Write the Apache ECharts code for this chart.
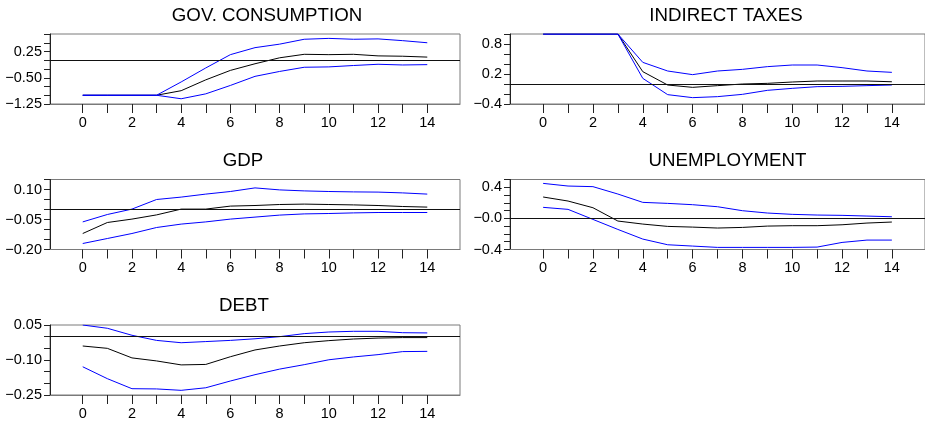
<!DOCTYPE html>
<html><head><meta charset="utf-8">
<script src="https://cdn.jsdelivr.net/npm/echarts@6/dist/echarts.min.js"></script>
<style>html,body{margin:0;padding:0;background:#fff}#c{width:925px;height:421px}</style>
</head><body><div id="c"></div>
<script>
// ---- data ----
const periods = [0,1,2,3,4,5,6,7,8,9,10,11,12,13,14];
const xLabelValues = [0,2,4,6,8,10,12,14];

const titles = ['GOV. CONSUMPTION','INDIRECT TAXES','GDP','UNEMPLOYMENT','DEBT'];

const govUpper = [-1.0,-1.0,-1.0,-1.0,-0.62,-0.22,0.16,0.36,0.46,0.60,0.625,0.60,0.61,0.56,0.50];
const govMid   = [-1.0,-1.0,-1.0,-1.0,-0.87,-0.56,-0.29,-0.10,0.07,0.17,0.16,0.17,0.125,0.115,0.09];
const govLower = [-1.0,-1.0,-1.0,-1.0,-1.10,-0.96,-0.72,-0.46,-0.32,-0.20,-0.19,-0.15,-0.115,-0.135,-0.125];

const taxUpper = [1.0,1.0,1.0,1.0,0.433,0.26,0.187,0.26,0.293,0.347,0.38,0.38,0.327,0.26,0.233];
const taxMid   = [1.0,1.0,1.0,1.0,0.247,-0.02,-0.067,-0.033,0.0,0.013,0.04,0.06,0.06,0.06,0.045];
const taxLower = [1.0,1.0,1.0,1.0,0.113,-0.213,-0.273,-0.253,-0.207,-0.127,-0.087,-0.053,-0.047,-0.033,-0.02];

const gdpUpper = [-0.062,-0.025,0.002,0.05,0.062,0.077,0.09,0.108,0.098,0.093,0.09,0.088,0.087,0.083,0.077];
const gdpMid   = [-0.12,-0.065,-0.048,-0.027,0.002,0.002,0.017,0.02,0.025,0.027,0.025,0.023,0.02,0.015,0.012];
const gdpLower = [-0.17,-0.145,-0.12,-0.09,-0.073,-0.062,-0.048,-0.038,-0.028,-0.022,-0.02,-0.017,-0.015,-0.015,-0.015];

const unUpper = [0.45,0.416,0.408,0.313,0.206,0.193,0.176,0.15,0.099,0.069,0.052,0.043,0.039,0.03,0.021];
const unMid   = [0.275,0.223,0.137,-0.034,-0.073,-0.103,-0.112,-0.124,-0.116,-0.099,-0.094,-0.094,-0.082,-0.06,-0.047];
const unLower = [0.142,0.116,-0.013,-0.142,-0.266,-0.339,-0.356,-0.373,-0.373,-0.373,-0.373,-0.369,-0.309,-0.279,-0.279];

const debtUpper = [0.05,0.036,0.006,-0.016,-0.026,-0.021,-0.016,-0.009,0.0,0.013,0.02,0.023,0.023,0.017,0.016];
const debtMid   = [-0.04,-0.05,-0.091,-0.104,-0.121,-0.119,-0.086,-0.057,-0.04,-0.026,-0.017,-0.01,-0.006,-0.004,-0.004];
const debtLower = [-0.129,-0.18,-0.223,-0.224,-0.23,-0.219,-0.19,-0.163,-0.139,-0.12,-0.099,-0.087,-0.077,-0.064,-0.063];

// y-axis tick labels (value, text)
const govTickVals = [-1.25,-0.5,0.25];   const govTickText = ['\u22121.25','\u22120.50','0.25'];
const taxTickVals = [-0.4,0.2,0.8];      const taxTickText = ['\u22120.4','0.2','0.8'];
const gdpTickVals = [-0.2,-0.05,0.1];    const gdpTickText = ['\u22120.20','\u22120.05','0.10'];
const unTickVals  = [-0.4,0.0,0.4];      const unTickText  = ['\u22120.4','\u22120.0','0.4'];
const debtTickVals = [-0.25,-0.1,0.05];  const debtTickText = ['\u22120.25','\u22120.10','0.05'];

// ---- layout ----
const FONT = 'Liberation Sans, Arial, sans-serif';
const panels = [
  {title: titles[0], tx: 267, ty: 15.5, grid:{left:50, top:34, width:410, height:70},
   y:{min:-1.25,max:0.75,step:0.25}, tv:govTickVals, tt:govTickText, up:govUpper, mid:govMid, lo:govLower},
  {title: titles[1], tx: 726, ty: 15.5, grid:{left:510, top:34, width:416, height:70},
   y:{min:-0.4,max:1.0,step:0.2}, tv:taxTickVals, tt:taxTickText, up:taxUpper, mid:taxMid, lo:taxLower},
  {title: titles[2], tx: 243, ty: 161, grid:{left:50, top:179.5, width:410, height:70},
   y:{min:-0.2,max:0.15,step:0.05}, tv:gdpTickVals, tt:gdpTickText, up:gdpUpper, mid:gdpMid, lo:gdpLower},
  {title: titles[3], tx: 727.5, ty: 161, grid:{left:510, top:179.5, width:416, height:70},
   y:{min:-0.4,max:0.5,step:0.1}, tv:unTickVals, tt:unTickText, up:unUpper, mid:unMid, lo:unLower},
  {title: titles[4], tx: 244, ty: 306, grid:{left:50, top:325, width:410, height:70},
   y:{min:-0.25,max:0.05,step:0.05}, tv:debtTickVals, tt:debtTickText, up:debtUpper, mid:debtMid, lo:debtLower}
];

const BOXC = '#7a7a7a';
const DARK = '#222';
const option = {
  animation:false,
  backgroundColor:'#fff',
  title: panels.map(p => ({text:p.title, left:p.tx, top:p.ty, textAlign:'center', textVerticalAlign:'middle', padding:0,
    textStyle:{fontFamily:FONT, fontSize:18.7, fontWeight:'normal', color:'#000'}})),
  grid: panels.map(p => Object.assign({show:true, borderColor:BOXC, borderWidth:1, backgroundColor:'transparent', containLabel:false}, p.grid)),
  xAxis: panels.map((p,i) => ({gridIndex:i, type:'value', min:-1.33, max:15.33,
    axisLine:{show:true, onZero:false, lineStyle:{color:BOXC, width:1}},
    axisTick:{show:true, customValues:periods, length:9, inside:false, lineStyle:{color:DARK, width:1}},
    axisLabel:{show:true, customValues:xLabelValues, margin:11, fontFamily:FONT, fontSize:14.5, color:'#000'},
    splitLine:{show:false}})),
  yAxis: panels.map((p,i) => ({gridIndex:i, type:'value', min:p.y.min, max:p.y.max, interval:p.y.step,
    axisLine:{show:true, onZero:false, lineStyle:{color:DARK, width:1}},
    axisTick:{show:true, length:6, inside:false, lineStyle:{color:DARK, width:1}},
    axisLabel:{show:true, margin:8, fontFamily:FONT, fontSize:14.5, color:'#000', showMinLabel:true, showMaxLabel:true,
      formatter: v => { for (let k=0;k<p.tv.length;k++) if (Math.abs(v-p.tv[k]) < p.y.step*0.01) return p.tt[k]; return ''; }},
    splitLine:{show:false}})),
  series: []
};
panels.forEach((p,i) => {
  const mk = (arr) => arr.map((v,j) => [periods[j], v]);
  option.series.push({type:'line', xAxisIndex:i, yAxisIndex:i, data:mk(p.mid), showSymbol:false, symbol:'none',
    lineStyle:{color:'#000', width:1}, itemStyle:{color:'#000'},
    markLine:{silent:true, symbol:'none', label:{show:false}, lineStyle:{color:'#111', width:1, type:'solid'}, data:[{yAxis:0}]}});
  option.series.push({type:'line', xAxisIndex:i, yAxisIndex:i, data:mk(p.up), showSymbol:false, symbol:'none',
    lineStyle:{color:'#0000ff', width:1}, itemStyle:{color:'#0000ff'}});
  option.series.push({type:'line', xAxisIndex:i, yAxisIndex:i, data:mk(p.lo), showSymbol:false, symbol:'none',
    lineStyle:{color:'#0000ff', width:1}, itemStyle:{color:'#0000ff'}});
});
const chart = echarts.init(document.getElementById('c'), null, {renderer:'canvas'});
chart.setOption(option);
</script>
</body></html>
